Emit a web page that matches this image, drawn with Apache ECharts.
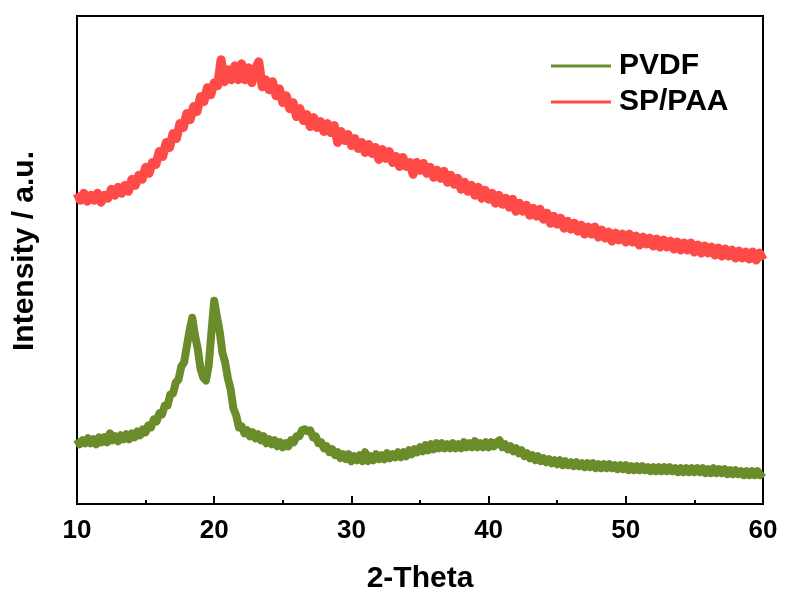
<!DOCTYPE html>
<html>
<head>
<meta charset="utf-8">
<script src="https://cdn.jsdelivr.net/npm/echarts@6/dist/echarts.min.js"></script>
<style>
html,body{margin:0;padding:0;background:#fff;}
#chart{width:785px;height:599px;}
</style>
</head>
<body>
<div id="chart"></div>
<script>
// 2-Theta scan grids (start and sampling step, degrees)
const thetaStart = 10;
const spStep = 0.25;
const pvdfStep = 0.2;
const xTicks = [10, 20, 30, 40, 50, 60];
const seriesNames = ['PVDF', 'SP/PAA'];

// SP/PAA intensity (a.u.), 10.00 .. 60.00 every 0.25 deg
const spPaa = [
  312,305,312,304,310,305,312,303,
  310,307,316,310,318,312,320,314,
  326,320,330,326,338,332,343,341,
  354,349,363,358,372,367,382,378,
  392,386,399,394,409,404,418,411,
  423,420,446,424,436,426,440,426,
  442,426,438,423,437,444,419,426,
  416,424,410,417,403,410,397,403,
  389,397,385,391,379,388,378,384,
  374,382,373,380,363,374,365,371,
  360,367,357,363,353,361,352,358,
  346,356,347,354,343,349,339,348,
  339,343,331,343,335,342,332,338,
  328,335,327,334,323,330,321,327,
  316,323,314,320,310,318,307,315,
  306,312,302,310,301,307,298,306,
  294,302,294,300,290,297,289,296,
  286,292,282,289,281,287,277,284,
  276,282,274,280,271,278,271,278,
  268,275,267,273,264,272,265,271,
  263,271,263,269,260,268,261,267,
  259,266,258,265,258,264,256,263,
  255,262,255,262,253,260,252,259,
  252,258,250,257,249,256,249,255,
  247,254,247,253,246,253,245,252,
  245
];

// PVDF intensity (a.u.), 10.0 .. 60.0 every 0.2 deg
const pvdf = [
  65,60,64,61,66,61,65,60,67,62,
  67,62,71,64,68,63,69,65,70,65,
  71,67,73,69,75,72,79,77,85,83,
  91,90,99,99,110,111,122,125,138,142,
  158,174,187,169,156,136,127,124,139,173,
  204,188,173,152,142,126,115,96,89,77,
  78,71,74,68,72,66,70,64,68,61,
  65,60,64,58,62,57,61,58,64,62,
  68,68,74,75,73,74,67,68,61,62,
  56,58,52,55,49,52,46,50,45,50,
  43,48,44,49,43,52,43,48,44,50,
  45,49,45,51,46,50,47,52,47,52,
  48,54,50,55,52,57,53,59,54,60,
  55,61,56,61,56,60,56,61,56,60,
  56,62,57,61,57,63,57,61,57,62,
  57,62,58,62,64,57,60,55,58,53,
  56,51,54,48,51,46,49,44,48,43,
  46,42,45,41,44,40,44,39,43,39,
  42,38,42,38,41,37,41,37,41,36,
  40,36,40,36,40,36,39,35,39,35,
  39,34,38,34,38,34,38,34,37,33,
  37,33,37,33,37,33,37,33,36,32,
  36,32,36,32,36,32,36,32,36,31,
  35,31,36,31,35,31,35,30,34,30,
  34,30,33,29,33,29,33,29,33,29,
  32
];

function pairs(vals, step) {
  return vals.map((v, i) => [+(thetaStart + i * step).toFixed(3), v]);
}

const FONT = '"Liberation Sans", Arial, sans-serif';
const chart = echarts.init(document.getElementById('chart'), null, {renderer: 'canvas'});
chart.setOption({
  animation: false,
  backgroundColor: '#fff',
  grid: {left: 77, right: 22, top: 16, bottom: 93, show: true, borderColor: '#000', borderWidth: 2},
  legend: {
    orient: 'vertical', left: 546, top: 46,
    itemWidth: 60, itemHeight: 30, itemGap: 6,
    data: seriesNames,
    icon: 'path://M0,9 L60,9 L60,12 L0,12 Z',
    textStyle: {fontFamily: FONT, fontWeight: 'bold', fontSize: 30, color: '#000', padding: [0, 0, 0, 3]}
  },
  xAxis: {
    type: 'value', min: xTicks[0], max: xTicks[xTicks.length - 1], interval: 10,
    name: '2-Theta', nameLocation: 'middle', nameGap: 60,
    nameTextStyle: {fontFamily: FONT, fontWeight: 'bold', fontSize: 30, color: '#000'},
    axisLine: {lineStyle: {color: '#000', width: 2}},
    axisTick: {inside: true, length: 8, lineStyle: {color: '#000', width: 2}},
    minorTick: {show: true, splitNumber: 2, length: 4, lineStyle: {color: '#000', width: 2}},
    axisLabel: {fontFamily: FONT, fontWeight: 'bold', fontSize: 26, color: '#000', margin: 14},
    splitLine: {show: false}
  },
  yAxis: {
    type: 'value', min: 0, max: 490,
    name: 'Intensity / a.u.', nameLocation: 'middle', nameGap: 37,
    nameTextStyle: {fontFamily: FONT, fontWeight: 'bold', fontSize: 30, color: '#000', padding: [0, 0, 0, 18]},
    axisLine: {show: true, lineStyle: {color: '#000', width: 2}},
    axisTick: {show: false}, axisLabel: {show: false}, splitLine: {show: false}
  },
  series: [
    {
      name: 'PVDF', type: 'line', data: pairs(pvdf, pvdfStep),
      showSymbol: false, symbol: 'none', color: '#6B8C2B',
      lineStyle: {width: 8, color: '#6B8C2B', join: 'round'}
    },
    {
      name: 'SP/PAA', type: 'line', data: pairs(spPaa, spStep),
      showSymbol: false, symbol: 'none', color: '#FF4B47',
      lineStyle: {width: 9, color: '#FF4B47', join: 'round'}
    }
  ]
});
</script>
</body>
</html>
